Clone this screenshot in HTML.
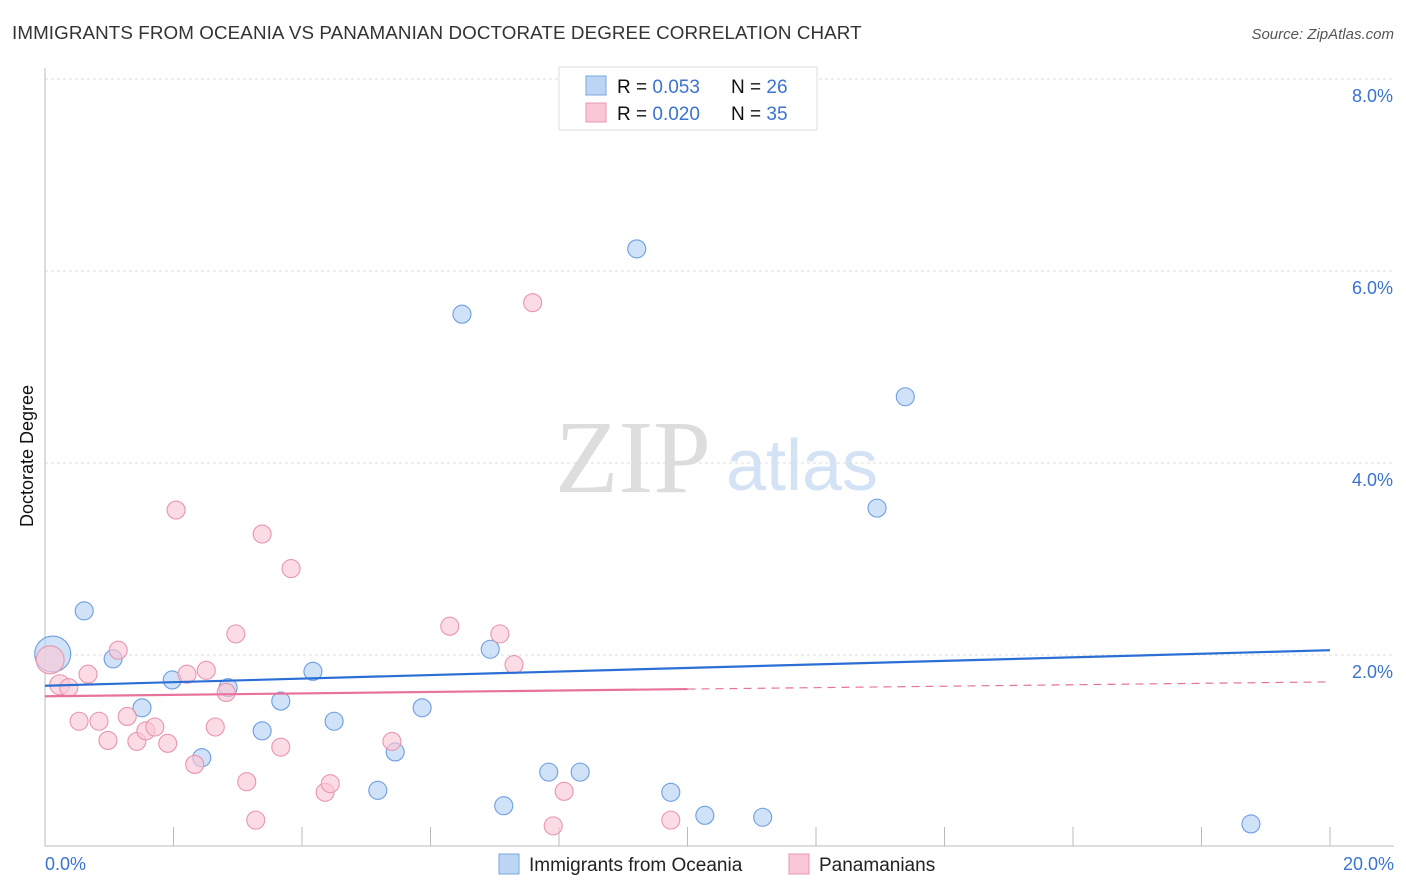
<!DOCTYPE html>
<html><head><meta charset="utf-8"><style>
body{margin:0;background:#fff;font-family:"Liberation Sans",sans-serif;}
svg{display:block}
</style></head><body>
<svg width="1406" height="892" id="chart">
<text x="12" y="39" font-size="18.8" letter-spacing="0.1" fill="#333">IMMIGRANTS FROM OCEANIA VS PANAMANIAN DOCTORATE DEGREE CORRELATION CHART</text>
<text x="1394" y="39" font-size="15" fill="#555" font-style="italic" text-anchor="end">Source: ZipAtlas.com</text>
<text x="633" y="492" font-size="104" fill="#ddd" font-family="Liberation Serif" text-anchor="middle">ZIP</text>
<text x="802" y="490" font-size="72" fill="#d4e2f5" text-anchor="middle">atlas</text>
<text transform="translate(33,456) rotate(-90)" font-size="18" fill="#111" text-anchor="middle">Doctorate Degree</text>
<g id="grid"></g><g id="marks"></g>
<g>
<rect x="559" y="67" width="258" height="63" fill="#fff" stroke="#ddd"/>
<rect x="586" y="76" width="20" height="19" fill="#bcd5f5" stroke="#7aa7e0"/>
<rect x="586" y="103" width="20" height="19" fill="#f9c7d6" stroke="#ea9ab3"/>
<text x="617" y="93" font-size="19" fill="#111">R = <tspan fill="#3a73d0">0.053</tspan></text>
<text x="731" y="93" font-size="19" fill="#111">N = <tspan fill="#3a73d0">26</tspan></text>
<text x="617" y="120" font-size="19" fill="#111">R = <tspan fill="#3a73d0">0.020</tspan></text>
<text x="731" y="120" font-size="19" fill="#111">N = <tspan fill="#3a73d0">35</tspan></text>
</g>
<g>
<rect x="499" y="854" width="20" height="20" fill="#bcd5f5" stroke="#7aa7e0"/>
<text x="529" y="871" font-size="19" fill="#222">Immigrants from Oceania</text>
<rect x="789" y="854" width="20" height="20" fill="#f9c7d6" stroke="#ea9ab3"/>
<text x="819" y="871" font-size="19" fill="#222">Panamanians</text>
</g>
</svg>
<script>
const xTicks=[0,2,4,6,8,10,12,14,16,18,20];
const yTicks=[2,4,6,8];
const yTickLabels=["2.0%","4.0%","6.0%","8.0%"];
const oceaniaX=[0.12,0.61,1.06,1.51,1.98,2.44,2.85,3.38,3.67,4.17,4.50,5.18,5.45,5.87,6.49,6.93,7.14,7.84,8.33,9.21,9.74,10.27,11.17,12.95,13.39,18.77];
const oceaniaY=[2.01,2.46,1.96,1.45,1.74,0.93,1.66,1.21,1.52,1.83,1.31,0.59,0.99,1.45,5.55,2.06,0.43,0.78,0.78,6.23,0.57,0.33,0.31,3.53,4.69,0.24];
const panX=[0.08,0.23,0.37,0.53,0.67,0.84,0.98,1.14,1.28,1.43,1.57,1.71,1.91,2.04,2.21,2.33,2.51,2.65,2.82,2.97,3.14,3.28,3.38,3.67,3.83,4.36,4.44,5.40,6.30,7.08,7.30,7.59,7.91,8.08,9.74];
const panY=[1.95,1.69,1.66,1.31,1.80,1.31,1.11,2.05,1.36,1.10,1.21,1.25,1.08,3.51,1.80,0.86,1.84,1.25,1.61,2.22,0.68,0.28,3.26,1.04,2.90,0.57,0.66,1.10,2.30,2.22,1.90,5.67,0.22,0.58,0.28];
const oceaniaSize=[18,9,9,9,9,9,9,9,9,9,9,9,9,9,9,9,9,9,9,9,9,9,9,9,9,9];
const panSize=[14,10,9,9,9,9,9,9,9,9,9,9,9,9,9,9,9,9,9,9,9,9,9,9,9,9,9,9,9,9,9,9,9,9,9];
const trendOceania=[1.68,2.05];
const trendPan=[1.57,1.72];
const NS="http://www.w3.org/2000/svg";
const X=v=>45+v/20*1285, Y=v=>847-v*96;
function mk(t,a,p){const e=document.createElementNS(NS,t);for(const k in a)e.setAttribute(k,a[k]);p.appendChild(e);return e;}
const grid=document.getElementById('grid'),marks=document.getElementById('marks');
yTicks.forEach((t,i)=>{
 const l=mk('line',{x1:45,x2:1394,y1:Y(t),y2:Y(t),stroke:'#ddd','stroke-dasharray':'3,3'},grid);
 
 
 const tx=mk('text',{x:1393,y:Y(t)+23,'font-size':18,fill:'#3a73d0','text-anchor':'end'},grid);
 tx.textContent=yTickLabels[i];
 
 
});
const ax=mk('line',{x1:45,x2:1394,y1:846,y2:846,stroke:'#bbb'},grid);


const ay=mk('line',{x1:45,x2:45,y1:68,y2:846,stroke:'#bbb'},grid);


xTicks.forEach(t=>{
 const l=mk('line',{x1:X(t),x2:X(t),y1:827,y2:846,stroke:'#bbb'},grid);
 
 
});
[[0,"0.0%",'start',45],[20,"20.0%",'end',1394]].forEach(d=>{
 const tx=mk('text',{x:d[3],y:870,'font-size':18,fill:'#3a73d0','text-anchor':d[2]},grid);
 tx.textContent=d[1];
 
 
});
oceaniaX.forEach((v,i)=>{
 const c=mk('circle',{cx:X(v),cy:Y(oceaniaY[i]),r:oceaniaSize[i],fill:'#bcd5f5','fill-opacity':0.7,stroke:'#6d9ee0','stroke-width':1.1},marks);
 
 
});
panX.forEach((v,i)=>{
 const c=mk('circle',{cx:X(v),cy:Y(panY[i]),r:panSize[i],fill:'#f9c7d6','fill-opacity':0.65,stroke:'#e995b0','stroke-width':1.1},marks);
 
 
});
const t1=mk('line',{x1:X(0),y1:Y(trendOceania[0]),x2:X(20),y2:Y(trendOceania[1]),stroke:'#2b6fd6','stroke-width':2.2},marks);


const mid=trendPan[0]+(trendPan[1]-trendPan[0])*0.5;
const t2=mk('line',{x1:X(0),y1:Y(trendPan[0]),x2:X(10),y2:Y(mid),stroke:'#e8739a','stroke-width':2.2},marks);


const t3=mk('line',{x1:X(10),y1:Y(mid),x2:X(20),y2:Y(trendPan[1]),stroke:'#e8739a','stroke-width':1.2,'stroke-dasharray':'8,6'},marks);


</script>
</body></html>
